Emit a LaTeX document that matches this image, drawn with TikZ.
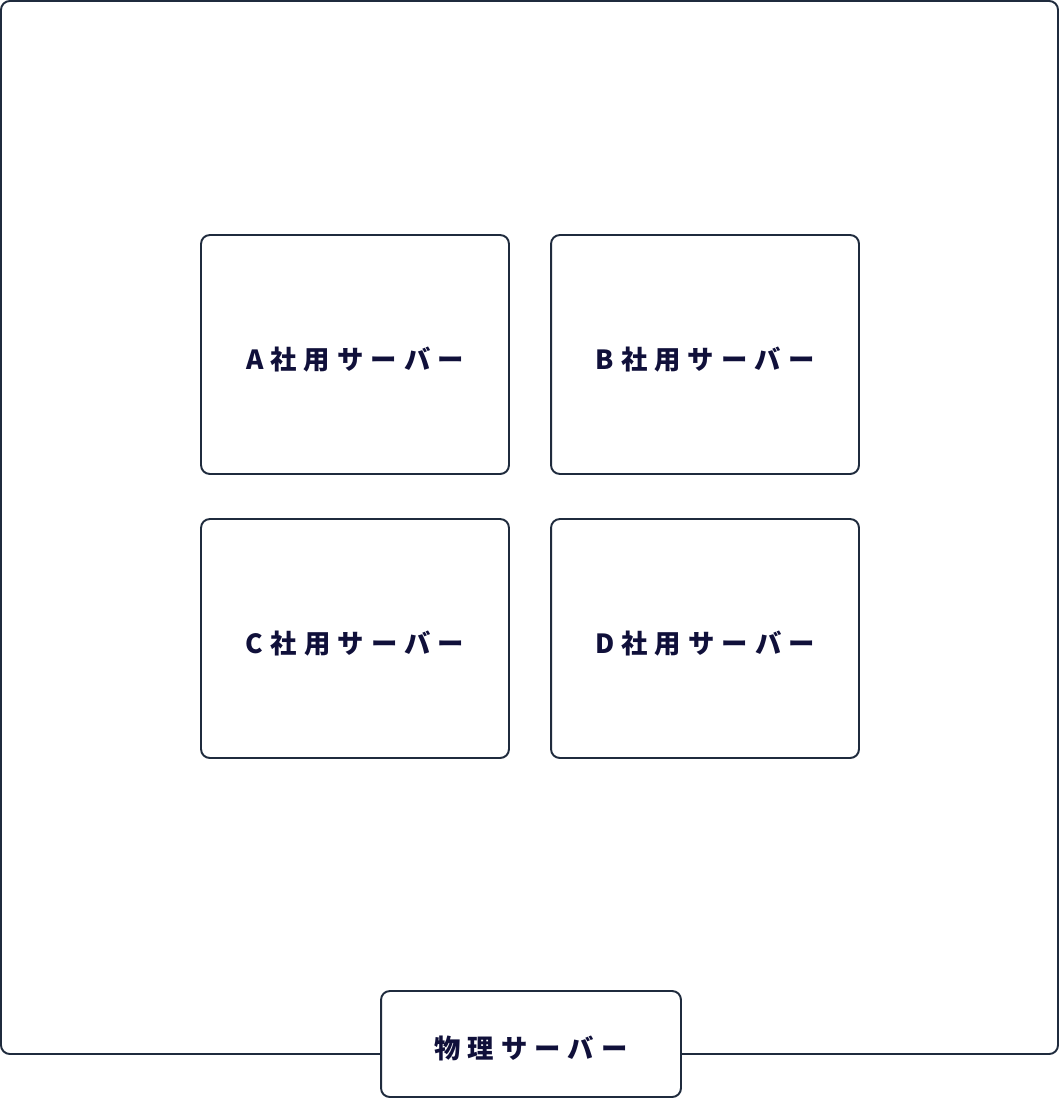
\documentclass[tikz,border=0pt]{standalone}
\usepackage{fontspec}
\newfontfamily\jp{Noto Sans CJK JP}[LetterSpace=27]
\definecolor{linecol}{HTML}{1F2B3D}
\definecolor{textcol}{HTML}{10103A}
\tikzset{
	srv/.style={draw=linecol, line width=1.1pt, rounded corners=5pt, fill=white,
		minimum width=6.16cm, minimum height=4.78cm, inner sep=0pt,
		text height=17pt, text depth=0pt,
		text=textcol, font=\jp\bfseries\fontsize{15}{18}\selectfont},
	host/.style={srv, minimum width=6cm, minimum height=2.12cm}
}
\begin{document}
\begin{tikzpicture}[x=0.02cm,y=-0.02cm]
\useasboundingbox (0,0) rectangle (1060,1098);
% physical frame
\draw [linecol, line width=1.1pt, rounded corners=5pt] (1,1) rectangle (1058,1054);

\foreach \n/\x/\y in {A/355/354.5, B/705/354.5, C/355/638.5, D/705/638.5}
	\node [srv] (\n) at (\x,\y) {\n 社用サーバー};

\node [host] (phys) at (531,1044) {物理サーバー};
\end{tikzpicture}
\end{document}
